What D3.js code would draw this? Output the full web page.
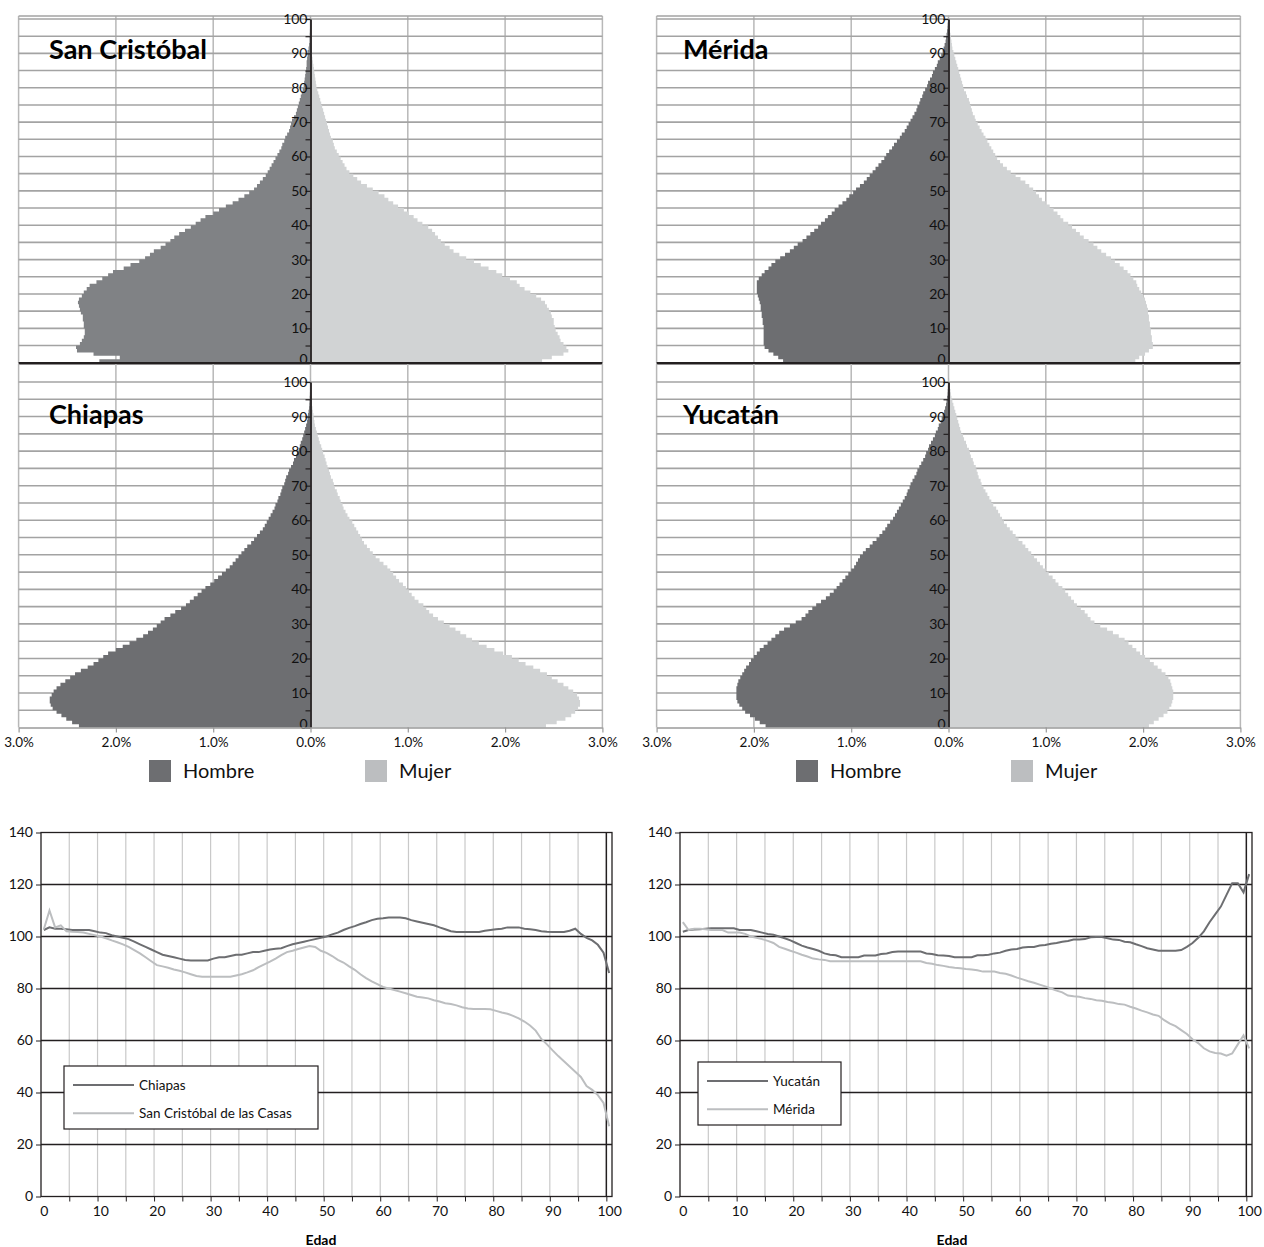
<!DOCTYPE html>
<html><head><meta charset="utf-8">
<script src="https://cdn.jsdelivr.net/npm/d3@7"></script>
<style>
body{margin:0;background:#fff}
svg{display:block}
text{font-family:Lato,'Open Sans',sans-serif}
</style>
</head><body>
<svg id="chart" width="1264" height="1247"></svg>
<script>
// ---------- DATA ----------
const ages = d3.range(0, 101);
const pctTicks = [-3, -2, -1, 0, 1, 2, 3];
const ageGrid = d3.range(5, 101, 5);
const ageTicks = d3.range(0, 101, 5);
const ratioTicks = d3.range(0, 141, 20);
const edadTicks = d3.range(0, 101, 10);

// Population share (% of total) by single year of age, 0..100
const sanCristobalHombre = [2.17,1.96,2.23,2.40,2.41,2.37,2.35,2.33,2.32,2.32,
2.33,2.33,2.34,2.34,2.36,2.37,2.38,2.39,2.38,2.35,
2.33,2.30,2.27,2.20,2.14,2.08,2.03,1.92,1.85,1.76,
1.70,1.65,1.61,1.54,1.49,1.44,1.40,1.35,1.29,1.23,
1.18,1.13,1.08,1.00,0.94,0.87,0.80,0.74,0.68,0.63,
0.58,0.55,0.52,0.49,0.46,0.44,0.42,0.40,0.38,0.36,
0.34,0.32,0.30,0.29,0.27,0.26,0.24,0.22,0.21,0.20,
0.19,0.17,0.15,0.14,0.13,0.12,0.11,0.10,0.09,0.08,
0.07,0.065,0.06,0.055,0.05,0.045,0.04,0.04,0.035,0.03,
0.03,0.02,0.015,0.01,0.01,0.008,0.006,0.005,0.004,0.003,
0.003];
const sanCristobalMujer = [2.38,2.48,2.60,2.65,2.63,2.60,2.57,2.56,2.54,2.52,
2.51,2.50,2.50,2.48,2.47,2.45,2.43,2.41,2.37,2.32,
2.26,2.20,2.15,2.12,2.05,1.97,1.91,1.83,1.75,1.68,
1.60,1.53,1.47,1.43,1.38,1.34,1.31,1.28,1.25,1.21,
1.15,1.10,1.06,1.01,0.96,0.90,0.85,0.80,0.76,0.70,
0.64,0.58,0.52,0.48,0.44,0.40,0.37,0.35,0.33,0.31,
0.29,0.27,0.25,0.24,0.23,0.21,0.20,0.19,0.18,0.17,
0.16,0.15,0.14,0.13,0.12,0.11,0.10,0.09,0.08,0.07,
0.06,0.055,0.05,0.045,0.04,0.035,0.03,0.025,0.02,0.015,
0.012,0.01,0.008,0.006,0.005,0.004,0.003,0.003,0.002,0.002,
0.002];
const meridaHombre = [1.70,1.75,1.80,1.85,1.89,1.90,1.90,1.90,1.90,1.90,
1.90,1.91,1.91,1.92,1.92,1.93,1.93,1.94,1.95,1.96,
1.97,1.97,1.97,1.97,1.95,1.92,1.89,1.85,1.82,1.78,
1.73,1.68,1.63,1.59,1.55,1.50,1.46,1.42,1.38,1.34,
1.31,1.27,1.24,1.20,1.17,1.13,1.09,1.05,1.02,0.98,
0.95,0.91,0.87,0.84,0.81,0.78,0.75,0.72,0.69,0.66,
0.64,0.61,0.58,0.56,0.53,0.50,0.48,0.45,0.43,0.41,
0.39,0.37,0.35,0.33,0.32,0.30,0.29,0.27,0.26,0.24,
0.22,0.21,0.19,0.17,0.16,0.14,0.12,0.11,0.09,0.075,
0.06,0.05,0.04,0.03,0.025,0.02,0.015,0.01,0.008,0.005,
0.004];
const meridaMujer = [1.92,1.96,2.02,2.06,2.10,2.10,2.09,2.09,2.08,2.08,
2.07,2.07,2.06,2.06,2.05,2.05,2.04,2.03,2.02,2.00,
1.98,1.96,1.94,1.93,1.90,1.87,1.84,1.80,1.76,1.71,
1.67,1.62,1.57,1.53,1.49,1.44,1.39,1.35,1.31,1.27,
1.23,1.18,1.15,1.12,1.08,1.04,1.00,0.96,0.93,0.90,
0.87,0.83,0.79,0.74,0.69,0.64,0.60,0.56,0.53,0.50,
0.48,0.46,0.44,0.42,0.40,0.38,0.36,0.34,0.32,0.30,
0.28,0.27,0.25,0.24,0.23,0.22,0.21,0.19,0.18,0.16,
0.15,0.14,0.13,0.12,0.11,0.10,0.09,0.08,0.07,0.06,
0.05,0.04,0.035,0.03,0.025,0.02,0.015,0.01,0.008,0.006,
0.005];
const chiapasHombre = [2.38,2.45,2.51,2.56,2.61,2.65,2.67,2.68,2.68,2.66,
2.64,2.61,2.57,2.52,2.47,2.42,2.36,2.29,2.23,2.18,
2.13,2.08,2.00,1.93,1.86,1.79,1.72,1.67,1.62,1.58,
1.54,1.50,1.44,1.39,1.33,1.28,1.24,1.20,1.16,1.12,
1.08,1.03,0.99,0.95,0.91,0.87,0.83,0.80,0.77,0.74,
0.71,0.68,0.65,0.61,0.58,0.55,0.52,0.49,0.47,0.45,
0.43,0.41,0.39,0.37,0.36,0.34,0.33,0.31,0.30,0.29,
0.27,0.26,0.25,0.23,0.22,0.20,0.18,0.17,0.15,0.14,
0.12,0.11,0.10,0.085,0.075,0.065,0.055,0.045,0.035,0.03,
0.025,0.02,0.015,0.012,0.01,0.008,0.006,0.005,0.004,0.003,
0.003];
const chiapasMujer = [2.42,2.53,2.62,2.68,2.72,2.75,2.77,2.77,2.76,2.74,
2.70,2.65,2.60,2.54,2.48,2.43,2.36,2.29,2.21,2.14,
2.07,1.98,1.89,1.81,1.73,1.66,1.60,1.54,1.49,1.43,
1.37,1.31,1.26,1.22,1.19,1.16,1.11,1.07,1.04,1.01,
0.98,0.95,0.91,0.88,0.85,0.82,0.79,0.75,0.71,0.67,
0.64,0.61,0.58,0.55,0.53,0.51,0.49,0.47,0.45,0.43,
0.40,0.38,0.36,0.34,0.33,0.31,0.30,0.28,0.27,0.25,
0.24,0.23,0.21,0.20,0.19,0.175,0.165,0.155,0.145,0.13,
0.12,0.11,0.095,0.085,0.075,0.065,0.055,0.045,0.04,0.035,
0.03,0.025,0.02,0.015,0.012,0.01,0.008,0.006,0.005,0.004,
0.004];
const yucatanHombre = [1.88,1.94,1.99,2.04,2.09,2.12,2.15,2.17,2.18,2.18,
2.18,2.18,2.17,2.16,2.14,2.12,2.10,2.08,2.05,2.03,
2.00,1.97,1.94,1.90,1.86,1.82,1.78,1.74,1.69,1.63,
1.57,1.51,1.47,1.44,1.40,1.36,1.31,1.26,1.22,1.18,
1.15,1.12,1.09,1.06,1.03,1.00,0.97,0.95,0.93,0.91,
0.88,0.85,0.81,0.78,0.74,0.71,0.68,0.65,0.63,0.60,
0.57,0.55,0.53,0.51,0.49,0.47,0.45,0.43,0.42,0.40,
0.39,0.37,0.35,0.33,0.32,0.30,0.28,0.26,0.24,0.23,
0.21,0.20,0.18,0.16,0.14,0.13,0.11,0.10,0.08,0.07,
0.06,0.045,0.035,0.025,0.02,0.015,0.01,0.008,0.006,0.005,
0.004];
const yucatanMujer = [2.06,2.11,2.16,2.21,2.25,2.27,2.29,2.30,2.31,2.31,
2.31,2.30,2.29,2.28,2.26,2.23,2.19,2.15,2.11,2.07,
2.02,1.97,1.93,1.89,1.85,1.81,1.75,1.69,1.63,1.56,
1.50,1.46,1.43,1.40,1.36,1.32,1.29,1.26,1.23,1.20,
1.17,1.13,1.10,1.07,1.03,1.00,0.97,0.94,0.91,0.88,
0.85,0.82,0.79,0.76,0.72,0.69,0.66,0.63,0.60,0.57,
0.55,0.53,0.51,0.49,0.46,0.44,0.42,0.40,0.38,0.36,
0.34,0.33,0.31,0.30,0.29,0.28,0.26,0.25,0.23,0.22,
0.21,0.19,0.18,0.16,0.15,0.13,0.12,0.11,0.10,0.09,
0.08,0.07,0.06,0.05,0.04,0.03,0.025,0.02,0.015,0.01,
0.008];

// Sex ratio (men per 100 women) by age, 0..100
const chiapasRatio = [102.5,103.5,103,103,102.8,102.5,102.5,102.5,102.5,102,
101.5,101.3,100.5,100,99.5,99,98,97,96,95,
94,93,92.5,92,91.5,91,90.8,90.8,90.8,90.8,
91.5,92,92,92.5,93,93,93.5,94,94,94.5,
95,95.3,95.5,96.3,97,97.5,98,98.5,99,99.5,
100,100.8,101.5,102.5,103.3,104,104.8,105.5,106.3,106.8,
107,107.3,107.3,107.3,107,106.3,105.8,105.3,104.8,104.3,
103.5,102.8,102,101.7,101.7,101.7,101.7,101.7,102.2,102.5,
102.8,103,103.5,103.5,103.5,103,102.8,102.5,102,101.8,
101.7,101.7,101.7,102.2,103,101,99.5,98.5,96.8,93.8,
86];
const sanCristobalRatio = [102.8,110,103.5,104.3,102,101.8,101.7,101.5,101,100.5,
100,99.3,98.5,97.8,97,96,94.8,93.5,92,90.5,
89,88.5,88,87.3,86.8,86.2,85.5,84.8,84.5,84.5,
84.5,84.5,84.5,84.5,85,85.5,86.2,87,88.2,89.3,
90.3,91.5,92.8,94,94.5,95.2,95.8,96.3,96,94.5,
93.7,92.5,91,90,88.5,87.2,85.5,84,82.7,81.7,
80.6,80,79.4,78.8,78.2,77.5,76.8,76.5,76.2,75.5,
75,74.3,74,73.5,72.8,72.3,72.1,72.1,72.1,72,
71.4,70.8,70.3,69.5,68.5,67.3,65.8,63.8,60.6,58.5,
56.2,54,52,50,48,46,42.5,41,39,36,
27];
const yucatanRatio = [101.8,102.5,102.7,102.8,103,103.2,103.2,103.2,103.2,103.2,
102.5,102.5,102.5,102,101.5,101,100.7,100,99.3,98.5,
97.5,96.5,95.8,95.2,94.5,93.5,93,92.8,92,92,
92,92,92.7,92.7,92.7,93.3,93.5,94,94.2,94.2,
94.2,94.2,94.2,93.5,93.3,92.8,92.7,92.5,92,92,
92,92,92.8,92.8,93,93.5,93.8,94.5,95,95.2,
95.8,96,96,96.5,96.7,97.2,97.5,98,98.3,98.8,
98.8,99,99.7,99.8,99.8,99.3,98.8,98.7,98,97.8,
97,96.3,95.5,95,94.5,94.5,94.5,94.5,94.8,96,
97.5,99.5,102,105.5,108.5,111.5,116,120.5,120.5,117,
124];
const meridaRatio = [105.5,102.5,103,103,102.8,102.5,102.5,102.5,101.5,101.5,
101.5,101,100,99.5,99,98.3,97.5,96,95.3,94.5,
93.8,93,92.3,91.5,91.2,91,90.5,90.5,90.5,90.5,
90.5,90.5,90.5,90.5,90.5,90.5,90.5,90.5,90.5,90.5,
90.5,90.5,90.5,89.8,89.5,89,88.7,88.3,88,87.8,
87.5,87.3,87,86.5,86.5,86.5,86,85.7,85,84.2,
83.5,82.8,82.2,81.5,80.8,80,79.2,78.5,77.3,77,
76.8,76.3,76,75.5,75.3,74.8,74.5,74,73.8,73,
72.3,71.5,70.8,70,69.5,67.8,66.5,65.5,64,62.5,
60.5,59,57,55.8,55.2,55,54.2,55,58.5,62,
57];

// ---------- DRAWING ----------
const svg = d3.select('#chart');
const DARK = '#231f20';
const MALE = '#6d6e71';
const MALE_SC = '#808285';
const FEMALE = '#d1d3d4';
const PX = 97.3; // px per percentage point
const FONT = "Lato,'Open Sans',sans-serif";
const stepAges = ages.concat([101]);

function pyramid(cfg) {
  const x = d3.scaleLinear().domain([-3, 3]).range([cfg.cx - 3 * PX, cfg.cx + 3 * PX]);
  const y = d3.scaleLinear().domain([0, 100]).range([cfg.y0, cfg.y100]);
  const g = svg.append('g');

  g.append('g').selectAll('line').data(pctTicks).join('line')
    .attr('x1', d => x(d)).attr('x2', d => x(d))
    .attr('y1', cfg.gridTop).attr('y2', cfg.y0)
    .attr('stroke', '#b8b8b8').attr('stroke-width', 1.5);
  g.append('g').selectAll('line').data(ageGrid).join('line')
    .attr('x1', x(-3)).attr('x2', x(3))
    .attr('y1', d => y(d)).attr('y2', d => y(d))
    .attr('stroke', '#a3a3a3').attr('stroke-width', 1.6);
  if (cfg.topFrame) {
    g.append('line').attr('x1', x(-3)).attr('x2', x(3))
      .attr('y1', cfg.gridTop).attr('y2', cfg.gridTop)
      .attr('stroke', '#a3a3a3').attr('stroke-width', 1.5);
  }

  // one bar per single year of age, drawn as a stepped shape (no seams)
  const val = (arr, a) => arr[Math.min(a, 100)];
  const maleArea = d3.area().curve(d3.curveStepBefore)
    .y(a => y(a)).x0(x(0)).x1(a => x(-val(cfg.male, a)));
  const femaleArea = d3.area().curve(d3.curveStepBefore)
    .y(a => y(a)).x0(x(0)).x1(a => x(val(cfg.female, a)));
  g.append('path').attr('d', maleArea(stepAges)).attr('fill', cfg.maleColor);
  g.append('path').attr('d', femaleArea(stepAges)).attr('fill', FEMALE);

  const ax = d3.axisLeft(y).tickValues(ageTicks)
    .tickFormat(d => d % 10 === 0 ? d : '')
    .tickSize(5).tickSizeOuter(0).tickPadding(-2);
  const axg = g.append('g').attr('transform', `translate(${x(0)},0)`).call(ax);
  axg.select('.domain').attr('stroke', DARK).attr('stroke-width', 1.8);
  axg.selectAll('.tick line').attr('stroke', DARK).attr('stroke-width', 1.2);
  axg.selectAll('.tick text').attr('font-size', 14).attr('fill', '#111')
    .attr('font-family', FONT)
    .attr('dy', d => d === 0 ? '0.05em' : '0.32em');

  if (cfg.separator) {
    g.append('line').attr('x1', x(-3)).attr('x2', x(3))
      .attr('y1', cfg.y0 + 0.5).attr('y2', cfg.y0 + 0.5)
      .attr('stroke', DARK).attr('stroke-width', 2.5);
  }
  if (cfg.xAxis) {
    const bx = d3.axisBottom(x).tickValues(pctTicks)
      .tickFormat(d => Math.abs(d).toFixed(1) + '%')
      .tickSize(5).tickSizeOuter(0).tickPadding(5);
    const bxg = g.append('g').attr('transform', `translate(0,${cfg.y0})`).call(bx);
    bxg.select('.domain').attr('stroke', '#9a9a9a').attr('stroke-width', 1.5);
    bxg.selectAll('.tick line').attr('stroke', '#9a9a9a').attr('stroke-width', 1.2);
    bxg.selectAll('.tick text').attr('font-size', 13.5).attr('fill', '#111')
      .attr('font-family', FONT);
  }
  g.append('text').attr('x', cfg.titleX).attr('y', cfg.titleY)
    .attr('font-size', 27).attr('font-weight', 700).attr('fill', '#000')
    .text(cfg.title);
}

function pyramidLegend(hx, mx, yTop) {
  const g = svg.append('g');
  const items = [{x: hx, c: MALE, t: 'Hombre'}, {x: mx, c: '#bcbec0', t: 'Mujer'}];
  g.selectAll('rect').data(items).join('rect')
    .attr('x', d => d.x).attr('y', yTop).attr('width', 22).attr('height', 22)
    .attr('fill', d => d.c);
  g.selectAll('text').data(items).join('text')
    .attr('x', d => d.x + 34).attr('y', yTop + 11).attr('dy', '0.35em')
    .attr('font-size', 20).attr('fill', '#111').text(d => d.t);
}

pyramid({cx: 310.5, y0: 362.7, y100: 19, gridTop: 16, topFrame: true, separator: true,
  male: sanCristobalHombre, female: sanCristobalMujer, maleColor: MALE_SC,
  title: 'San Cristóbal', titleX: 49, titleY: 59});
pyramid({cx: 948.5, y0: 362.7, y100: 19, gridTop: 16, topFrame: true, separator: true,
  male: meridaHombre, female: meridaMujer, maleColor: MALE,
  title: 'Mérida', titleX: 683, titleY: 59});
pyramid({cx: 310.5, y0: 727.6, y100: 382, gridTop: 364, xAxis: true,
  male: chiapasHombre, female: chiapasMujer, maleColor: MALE,
  title: 'Chiapas', titleX: 49, titleY: 424});
pyramid({cx: 948.5, y0: 727.6, y100: 382, gridTop: 364, xAxis: true,
  male: yucatanHombre, female: yucatanMujer, maleColor: MALE,
  title: 'Yucatán', titleX: 683, titleY: 424});
pyramidLegend(149, 365, 760);
pyramidLegend(796, 1011, 760);

function lineChart(cfg) {
  const x = d3.scaleLinear().domain([-0.5, 100.5]).range([cfg.left, cfg.right]);
  const y = d3.scaleLinear().domain([0, 140]).range([1196.5, 832.5]);
  const g = svg.append('g');
  const bounds = d3.range(4.5, 95, 5);

  g.append('g').selectAll('line').data(bounds).join('line')
    .attr('x1', d => x(d)).attr('x2', d => x(d))
    .attr('y1', y(140)).attr('y2', y(0))
    .attr('stroke', '#c9c9c9').attr('stroke-width', 1.2);
  g.append('line').attr('x1', x(99.5)).attr('x2', x(99.5))
    .attr('y1', y(140)).attr('y2', y(0))
    .attr('stroke', DARK).attr('stroke-width', 1.5);
  g.append('g').selectAll('line').data(d3.range(20, 121, 20)).join('line')
    .attr('x1', x(-0.5)).attr('x2', x(100.5))
    .attr('y1', d => y(d)).attr('y2', d => y(d))
    .attr('stroke', DARK).attr('stroke-width', 1.3);
  g.append('rect').attr('x', x(-0.5)).attr('y', y(140))
    .attr('width', x(100.5) - x(-0.5)).attr('height', y(0) - y(140))
    .attr('fill', 'none').attr('stroke', DARK).attr('stroke-width', 1.3);

  const tm = d3.axisBottom(x).tickValues(bounds.concat([99.5])).tickFormat('').tickSize(5).tickSizeOuter(0);
  const tmg = g.append('g').attr('transform', `translate(0,${y(0)})`).call(tm);
  tmg.select('.domain').remove();
  tmg.selectAll('.tick line').attr('stroke', DARK);
  const lx = d3.axisBottom(x).tickValues(edadTicks).tickSize(0).tickPadding(10);
  const lxg = g.append('g').attr('transform', `translate(0,${y(0)})`).call(lx);
  lxg.select('.domain').remove();
  lxg.selectAll('.tick text').attr('font-size', 14).attr('fill', '#111')
    .attr('font-family', FONT);
  const ly = d3.axisLeft(y).tickValues(ratioTicks).tickSize(5).tickSizeOuter(0).tickPadding(3);
  const lyg = g.append('g').attr('transform', `translate(${x(-0.5)},0)`).call(ly);
  lyg.select('.domain').remove();
  lyg.selectAll('.tick line').attr('stroke', DARK);
  lyg.selectAll('.tick text').attr('font-size', 14).attr('fill', '#111')
    .attr('font-family', FONT);

  const line = v => d3.line().x(a => x(a)).y(a => y(v[a]))(ages);
  g.append('path').attr('d', line(cfg.dark)).attr('fill', 'none')
    .attr('stroke', MALE).attr('stroke-width', 2);
  g.append('path').attr('d', line(cfg.light)).attr('fill', 'none')
    .attr('stroke', '#bcbec0').attr('stroke-width', 2);

  const L = cfg.legend;
  g.append('rect').attr('x', L.x).attr('y', L.y).attr('width', L.w).attr('height', L.h)
    .attr('fill', '#fff').attr('stroke', DARK).attr('stroke-width', 1.2);
  const items = [{t: cfg.darkName, c: MALE, yy: L.y + L.h * 0.30},
                 {t: cfg.lightName, c: '#bcbec0', yy: L.y + L.h * 0.75}];
  g.selectAll('line.leg').data(items).join('line').attr('class', 'leg')
    .attr('x1', L.x + 9).attr('x2', L.x + 9 + L.line)
    .attr('y1', d => d.yy).attr('y2', d => d.yy)
    .attr('stroke', d => d.c).attr('stroke-width', 2);
  g.selectAll('text.leg').data(items).join('text').attr('class', 'leg')
    .attr('x', L.x + 14 + L.line).attr('y', d => d.yy).attr('dy', '0.35em')
    .attr('font-size', 13.5).attr('fill', '#111').text(d => d.t);

  g.append('text').attr('x', cfg.edadX).attr('y', 1245).attr('text-anchor', 'middle')
    .attr('font-size', 14).attr('font-weight', 700).attr('fill', '#000').text('Edad');
}

lineChart({left: 41, right: 612, dark: chiapasRatio, light: sanCristobalRatio,
  darkName: 'Chiapas', lightName: 'San Cristóbal de las Casas', edadX: 321,
  legend: {x: 64, y: 1066, w: 254, h: 63, line: 61}});
lineChart({left: 680, right: 1252, dark: yucatanRatio, light: meridaRatio,
  darkName: 'Yucatán', lightName: 'Mérida', edadX: 952,
  legend: {x: 698, y: 1062, w: 143, h: 63, line: 61}});
</script>
</body></html>
